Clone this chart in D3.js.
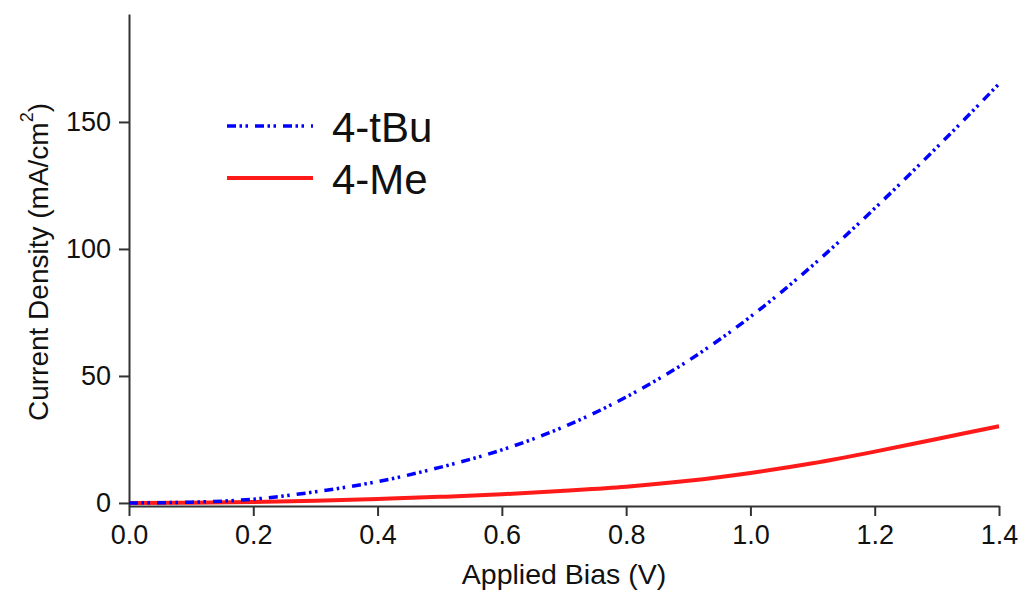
<!DOCTYPE html>
<html>
<head>
<meta charset="utf-8">
<script src="https://cdn.jsdelivr.net/npm/d3@7"></script>
<style>
  body { margin: 0; background: #fff; }
  text { font-family: "Liberation Sans", Arial, Helvetica, sans-serif; fill: #111; }
</style>
</head>
<body>
<div id="chartDiv"></div>
<script>
// values
var bias = [0.0, 0.1, 0.2, 0.3, 0.4, 0.5, 0.6, 0.7, 0.8, 0.9, 1.0, 1.1, 1.2, 1.3, 1.4];
var tBu  = [0, 0.3, 1.5, 4.4, 8.4, 14, 20.9, 30, 41.7, 56, 73.3, 93.5, 116, 140, 165];
var me   = [0, 0.1, 0.4, 0.9, 1.6, 2.4, 3.4, 4.8, 6.4, 8.7, 11.8, 15.6, 20.2, 25.2, 30.2];

var xTicks = [0, 0.2, 0.4, 0.6, 0.8, 1.0, 1.2, 1.4];
var yTicks = [0, 50, 100, 150];
var seriesNames = ["4-tBu", "4-Me"];

var W = 1026, H = 594;
var margin = {top: 14, right: 27, bottom: 88, left: 129};

var svg = d3.select("#chartDiv").append("svg")
    .attr("width", W)
    .attr("height", H);

var x_scale = d3.scaleLinear()
    .domain([0, 1.4])
    .range([margin.left, W - margin.right]);

var y_scale = d3.scaleLinear()
    .domain([-1.2, 192.5])
    .range([H - margin.bottom, margin.top]);

var xAxis = d3.axisBottom(x_scale)
    .tickValues(xTicks)
    .tickFormat(d3.format(".1f"))
    .tickSizeInner(10).tickSizeOuter(0).tickPadding(9);

var yAxis = d3.axisLeft(y_scale)
    .tickValues(yTicks)
    .tickSizeInner(10).tickSizeOuter(0).tickPadding(8);

var xGroup = svg.append("g")
    .attr("transform", "translate(0," + (H - margin.bottom) + ")")
    .call(xAxis);

var yGroup = svg.append("g")
    .attr("transform", "translate(" + margin.left + ",0)")
    .call(yAxis);

svg.selectAll(".domain, .tick line")
    .attr("stroke", "#333")
    .attr("stroke-width", 2);
svg.selectAll(".tick text")
    .attr("font-size", 27)
    .attr("fill", "#111")
    .attr("font-family", "Liberation Sans, Arial, sans-serif");

// axis titles
svg.append("text")
    .attr("x", (x_scale(0) + x_scale(1.4)) / 2)
    .attr("y", 584)
    .attr("text-anchor", "middle")
    .attr("font-size", 28.5)
    .text("Applied Bias (V)");

var yTitle = svg.append("text")
    .attr("transform", "translate(48," + 262 + ") rotate(-90)")
    .attr("text-anchor", "middle")
    .attr("font-size", 28);
yTitle.append("tspan").text("Current Density (mA/cm");
yTitle.append("tspan").attr("font-size", 18).attr("dy", -15).text("2");
yTitle.append("tspan").attr("dy", 15).text(")");

// curves
var line = d3.line()
    .x(function(d) { return x_scale(d[0]); })
    .y(function(d) { return y_scale(d[1]); })
    .curve(d3.curveMonotoneX);

var meData = bias.map(function(b, i) { return [b, me[i]]; });
var tBuData = bias.map(function(b, i) { return [b, tBu[i]]; });

var styles = [
  {color: "#0000ff", width: 3.5, dash: "9,3.5,2.5,3.5,2.5,7"},
  {color: "#ff1a1a", width: 4, dash: null}
];

svg.append("path")
    .datum(meData)
    .attr("d", line)
    .attr("fill", "none")
    .attr("stroke", styles[1].color)
    .attr("stroke-width", styles[1].width);

svg.append("path")
    .datum(tBuData)
    .attr("d", line)
    .attr("fill", "none")
    .attr("stroke", styles[0].color)
    .attr("stroke-width", styles[0].width)
    .attr("stroke-dasharray", styles[0].dash);

// legend
var legend = svg.append("g").attr("class", "legend");
seriesNames.forEach(function(name, i) {
  var ly = 126 + i * 52;
  legend.append("line")
      .attr("x1", 227).attr("x2", 313)
      .attr("y1", ly).attr("y2", ly)
      .attr("stroke", styles[i].color)
      .attr("stroke-width", styles[i].width)
      .attr("stroke-dasharray", styles[i].dash);
  legend.append("text")
      .attr("x", 332)
      .attr("y", ly + 16)
      .attr("font-size", 42)
      .text(name);
});
</script>
</body>
</html>
